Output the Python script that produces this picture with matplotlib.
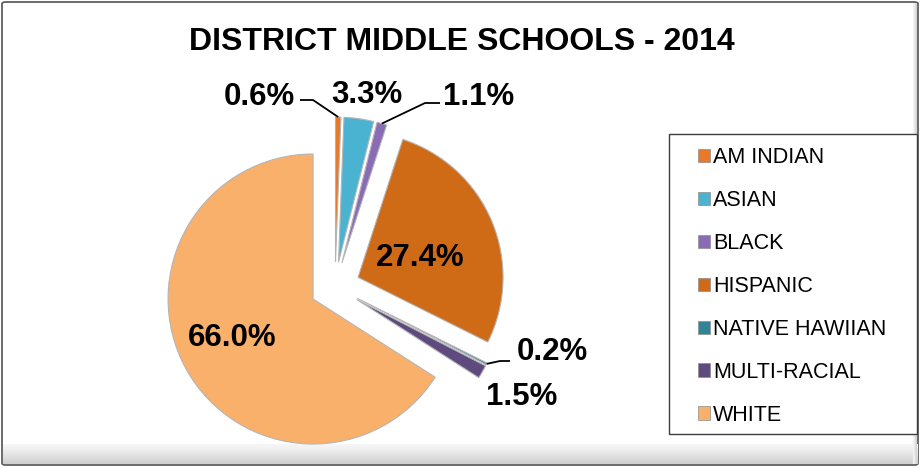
import numpy as np
import matplotlib
matplotlib.use("Agg")
import matplotlib.pyplot as plt
from matplotlib.patches import Patch, FancyBboxPatch, Rectangle

plt.rcParams['font.family'] = ['Liberation Sans', 'DejaVu Sans']

# data
groups = ['AM INDIAN', 'ASIAN', 'BLACK', 'HISPANIC', 'NATIVE HAWIIAN', 'MULTI-RACIAL', 'WHITE']
shares = [0.6, 3.3, 1.1, 27.4, 0.2, 1.5, 66.0]
colors = ['#E8792A', '#4BB3D2', '#8A6BB5', '#CF6A17', '#2F8496', '#5E4A7E', '#F9B06A']

W, H = 922, 468
fig = plt.figure(figsize=(W / 100, H / 100), dpi=100)

# outer chart frame
fig.patches.append(FancyBboxPatch((2 / W, 3 / H), 916 / W, 463 / H,
                                  boxstyle='round,pad=0,rounding_size=0.004',
                                  transform=fig.transFigure, facecolor='white',
                                  edgecolor='#5f5f5f', linewidth=1.3, zorder=-1))

ax = fig.add_axes([0, 0, 1, 1])
ax.patch.set_alpha(0)

# soft grey shading along the bottom and right edge of the chart area
ax.imshow(np.linspace(0, 1, 50)[:, None], extent=(3, 917, 4, 24), cmap='Greys',
          vmin=-0.3, vmax=4.0, aspect='auto', zorder=0)
ax.imshow(np.linspace(0, 1, 20)[None, :], extent=(913, 917, 4, H - 3), cmap='Greys',
          vmin=-0.3, vmax=4.0, aspect='auto', zorder=0)

# pie
cx, cy, r, expl = 335, H - 287, 145, 25
wedges, _ = ax.pie(shares, colors=colors, startangle=90, counterclock=False,
                   radius=r, center=(cx, cy), explode=[expl] * len(shares),
                   wedgeprops=dict(edgecolor='#b5b5b5', linewidth=0.8))
ax.set_xlim(0, W)
ax.set_ylim(0, H)
ax.set_aspect('equal')
ax.axis('off')

fig.text(462 / W, 1 - 42 / H, 'DISTRICT MIDDLE SCHOOLS - 2014', ha='center', va='center',
         fontsize=23, fontweight='bold')

# percentage labels (center positions, y from top)
label_pos = [(259, 97), (367, 95), (479, 97), (420, 258), (552, 352), (522, 397), (232, 338)]
for v, (lx, ly) in zip(shares, label_pos):
    ax.text(lx, H - ly, f'{v:.1f}%', ha='center', va='center',
            fontsize=22.5, fontweight='bold', color='black')

# leader lines for the thin slices: slice tip -> elbow -> text end
leaders = {0: ((313, 100), (300, 100)), 2: ((425, 103), (440, 103)), 4: ((500, 361), (510, 361))}
for i, (elbow, end) in leaders.items():
    w = wedges[i]
    tm = np.deg2rad((w.theta1 + w.theta2) / 2)
    ox, oy = w.center
    tx, ty = ox + r * np.cos(tm), oy + r * np.sin(tm)
    ax.plot([tx, elbow[0], end[0]], [ty, H - elbow[1], H - end[1]], color='black', lw=1.3,
            solid_capstyle='butt', zorder=5)

# legend: box drawn separately, entries placed inside it
ax.add_patch(Rectangle((669, H - 434), 248, 300, facecolor='white', edgecolor='#3c3c3c',
                       linewidth=1.0, zorder=1))
handles = [Patch(facecolor=c, edgecolor='#8c8c8c', linewidth=0.5) for c in colors]
leg = fig.legend(handles, groups, loc='upper left',
                 bbox_to_anchor=(698 / W, 1 - 147 / H),
                 fontsize=15.5, frameon=False, borderaxespad=0, borderpad=0,
                 handlelength=0.58, handleheight=0.58, handletextpad=0.12,
                 labelspacing=1.02)

fig.savefig('out.png', dpi=100)
